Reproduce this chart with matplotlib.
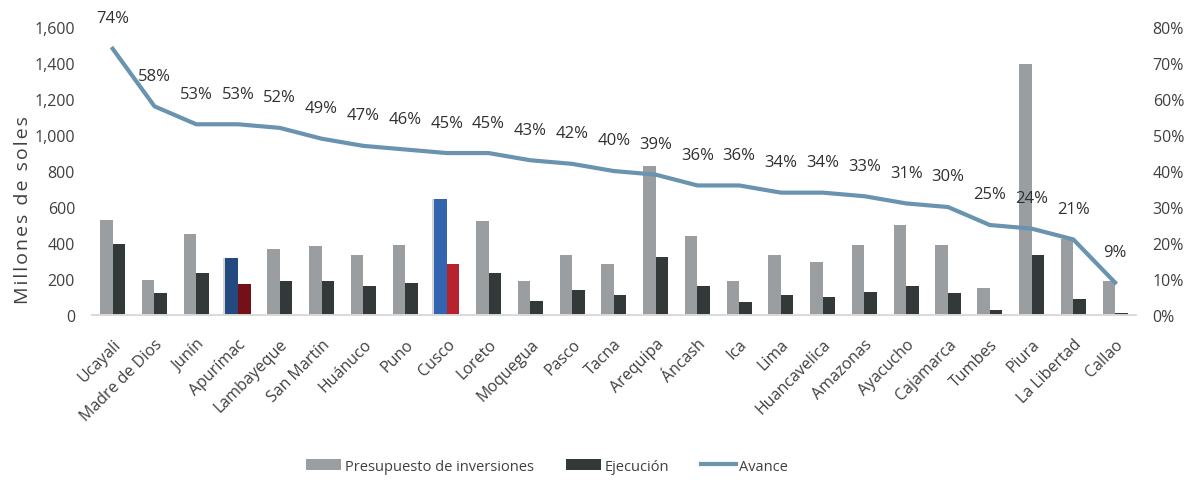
import matplotlib
matplotlib.use("Agg")
import matplotlib.pyplot as plt
import matplotlib.patheffects as pe
from matplotlib.ticker import FuncFormatter, MultipleLocator
from matplotlib.lines import Line2D
from matplotlib.patches import Patch

plt.rcParams["font.family"] = ["Open Sans", "DejaVu Sans"]

# Data

regions = [
    "Ucayali", "Madre de Dios", "Junín", "Apurímac", "Lambayeque",
    "San Martín", "Huánuco", "Puno", "Cusco", "Loreto", "Moquegua",
    "Pasco", "Tacna", "Arequipa", "Áncash", "Ica", "Lima",
    "Huancavelica", "Amazonas", "Ayacucho", "Cajamarca", "Tumbes",
    "Piura", "La Libertad", "Callao"
]

presupuesto = [
    530, 195, 450, 315, 365, 385, 335, 390, 645, 520, 190, 335, 285,
    830, 440, 190, 335, 295, 390, 500, 390, 150, 1395, 420, 190
]

ejecucion = [
    395, 120, 235, 170, 190, 190, 160, 180, 285, 235, 80, 140, 110,
    325, 160, 70, 110, 100, 130, 160, 120, 30, 335, 90, 10
]

avance = [
    74, 58, 53, 53, 52, 49, 47, 46, 45, 45, 43, 42, 40, 39, 36, 36,
    34, 34, 33, 31, 30, 25, 24, 21, 9
]

# Colors

GRAY = "#9a9ea1"
DARK = "#333838"
LINE = "#6a93b0"
TEXT = "#404040"

highlight = {
    "Apurímac": ("#234a80", "#741018"),
    "Cusco": ("#3364b0", "#b8222e"),
}

fig = plt.figure(figsize=(11.92, 4.85), dpi=100)
ax = fig.add_axes([0.077, 0.3485, 0.876, 0.5935])
ax2 = ax.twinx()

x = list(range(len(regions)))
w = 0.3

gray_colors = [highlight[r][0] if r in highlight else GRAY for r in regions]
dark_colors = [highlight[r][1] if r in highlight else DARK for r in regions]

bars1 = ax.bar([i - w / 2 for i in x], presupuesto, width=w,
               color=gray_colors, zorder=2)
ax.bar([i + w / 2 for i in x], ejecucion, width=w,
       color=dark_colors, zorder=2)

# Soft shadow on highlighted bars
for bar, r in zip(bars1, regions):
    if r in highlight:
        bar.set_path_effects([
            pe.SimplePatchShadow(offset=(-2, 0), shadow_rgbFace="#888888",
                                 alpha=0.35),
            pe.Normal()
        ])

ax.set_ylim(0, 1600)
ax.yaxis.set_major_locator(MultipleLocator(200))
ax.yaxis.set_major_formatter(FuncFormatter(lambda v, p: f"{int(v):,}"))
ax.set_xlim(-0.5, len(regions) - 0.5)

ax.set_xticks(x)
ax.set_xticklabels(regions, rotation=45, ha="right",
                   rotation_mode="anchor", fontsize=11.5, color=TEXT)

# Slightly letter-spaced axis title, as in the original
ylabel = "\u200a".join("Millones de soles")
fig.text(0.019, 0.567, ylabel, rotation=90, ha="center",
         va="center", fontsize=14, color=TEXT)

ax2.plot(x, avance, color=LINE, linewidth=3, zorder=3)
ax2.set_ylim(0, 80)
ax2.yaxis.set_major_locator(MultipleLocator(10))
ax2.yaxis.set_major_formatter(FuncFormatter(lambda v, p: f"{int(v)}%"))

for i, v in enumerate(avance):
    ax2.annotate(f"{v}%", (i, v), xytext=(0, 22),
                 textcoords="offset points", ha="center", va="center",
                 fontsize=12, color="#303030")

for a in (ax, ax2):
    for s in ("top", "right", "left"):
        a.spines[s].set_visible(False)
    a.spines["bottom"].set_color("#d9d9d9")
    a.spines["bottom"].set_linewidth(1.2)
    a.tick_params(axis="both", length=0, labelsize=11.5, labelcolor=TEXT)
    a.tick_params(axis="x", pad=15)

ax.tick_params(axis="y", pad=12)
ax2.tick_params(axis="y", pad=12)

# Legend

handles = [
    Patch(facecolor=GRAY, label="Presupuesto de inversiones"),
    Patch(facecolor=DARK, label="Ejecución"),
    Line2D([0], [0], color=LINE, linewidth=3, label="Avance"),
]
fig.legend(handles=handles, loc="center", bbox_to_anchor=(0.459, 0.037),
           ncol=3, frameon=False, fontsize=10.5, handlelength=2.4,
           handleheight=0.8, handletextpad=0.25, columnspacing=2.2,
           labelcolor=TEXT)

fig.savefig("out.png", dpi=100)
